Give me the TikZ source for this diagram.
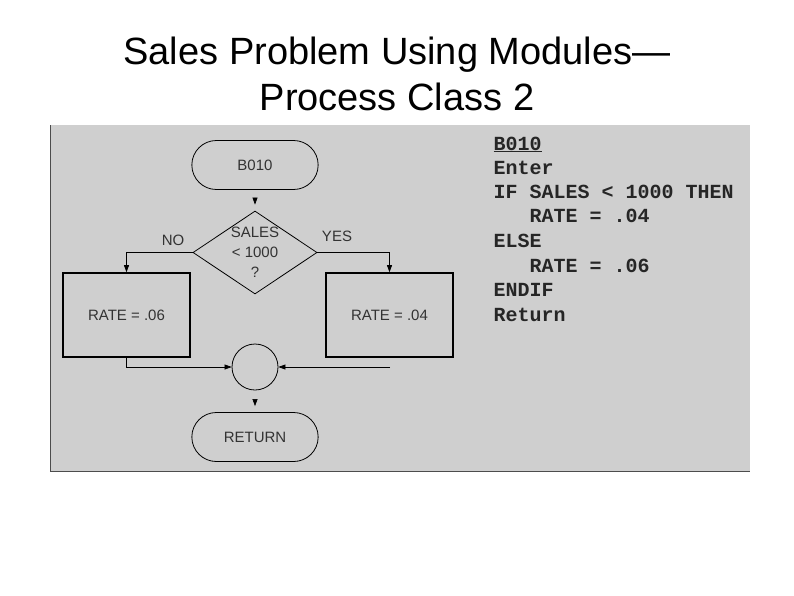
\documentclass[tikz,border=0pt]{standalone}
\usepackage{fontspec}
\setmainfont{Liberation Sans}
\newfontfamily\codefont{Liberation Mono}
\usetikzlibrary{shapes.geometric,shapes.misc,arrows.meta}
\begin{document}
\begin{tikzpicture}[x=1pt,y=-1pt,
  lbl/.style={font=\fontsize{15}{17}\selectfont,text=black!80},
  term/.style={draw,thick,rounded rectangle,minimum width=133pt,minimum height=49pt,lbl},
  procbox/.style={draw,line width=1.6pt,minimum width=127pt,minimum height=84pt,lbl},
  flow/.style={-{Triangle[length=7pt,width=5pt]},line width=0.6pt},
  code/.style={anchor=base west,font=\codefont\bfseries\fontsize{20}{22}\selectfont,text=black!85}]
\useasboundingbox (0,0) rectangle (794,595);
\fill[gray!38] (50,125) rectangle (750,472);
\draw[line width=1pt,black!70] (50.5,125) -- (50.5,471.5) -- (750,471.5);
\node[font=\fontsize{38}{46}\selectfont,align=center] (title) at (397,74) {Sales Problem Using Modules—\\Process Class 2};
\node[term] (b010) at (255,165) {B010};
\node[draw,thick,diamond,aspect=1.5,minimum width=124pt,minimum height=83pt,inner sep=0pt,align=center,lbl,font=\fontsize{15}{20}\selectfont] (dec) at (255,252.5) {SALES\\< 1000\\?};
\node[procbox] (rl) at (126.5,315) {RATE = .06};
\node[procbox] (rr) at (389.5,315) {RATE = .04};
\node[draw,thick,circle,minimum size=46pt] (join) at (255,367) {};
\node[term] (ret) at (255,437) {RETURN};
\node[lbl] (no) at (173,240) {NO};
\node[lbl] (yes) at (337,236) {YES};
\coordinate (rin) at (390,367);
\draw[flow,shorten <=10pt,shorten >=6pt] (b010) -- (dec);
\draw[flow] (dec.west) -| (rl.north);
\draw[flow] (dec.east) -| (rr.north);
\draw[flow] (rl.south) |- (join.west);
\draw[flow] (rin) -- (join.east);
\draw[flow,shorten <=12pt,shorten >=6pt] (join) -- (ret);
\node[code] (c1) at (490,150) {\underline{B010}};
\node[code] (c2) at (490,174) {Enter};
\node[code] (c3) at (490,198) {IF SALES < 1000 THEN};
\node[code] (c4) at (490,222.5) {\ \ \ RATE = .04};
\node[code] (c5) at (490,247) {ELSE};
\node[code] (c6) at (490,272) {\ \ \ RATE = .06};
\node[code] (c7) at (490,296.5) {ENDIF};
\node[code] (c8) at (490,321) {Return};
\end{tikzpicture}
\end{document}
